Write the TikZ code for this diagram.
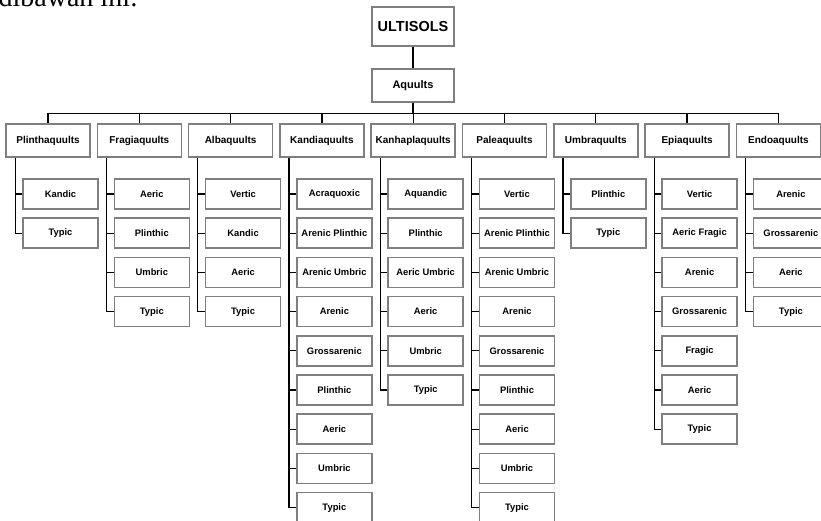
\documentclass[tikz,border=0pt]{standalone}
\usepackage{fontspec}
\setmainfont{Liberation Serif}
\newfontfamily\boxfont{Liberation Sans}
\usepackage{tikz}
\usetikzlibrary{positioning}
\definecolor{soilgray}{HTML}{7F7F7F}
\tikzstyle{ordobox} = [draw=soilgray, line width=1.6pt, fill=white, inner sep=0pt, align=center, font=\boxfont\bfseries]
\tikzstyle{grupbox} = [ordobox, minimum width=84pt, minimum height=33pt, font=\boxfont\bfseries\fontsize{10}{12}\selectfont]
\tikzstyle{subbox} = [ordobox, minimum width=75pt, minimum height=30pt, font=\boxfont\bfseries\fontsize{9.4}{11}\selectfont]
\tikzstyle{link} = [line width=1.3pt, black]

\begin{document}
\begin{tikzpicture}[x=1pt,y=-1pt]
\useasboundingbox (0,0) rectangle (821,521);
\node[font=\fontsize{28}{30}\selectfont, anchor=base east, inner sep=0pt] (intro) at (138,7) {dibawah ini:};

\node[ordobox, minimum width=82pt, minimum height=39pt, font=\boxfont\bfseries\fontsize{14.5}{16}\selectfont] (ordo) at (413,26.5) {ULTISOLS};
\node[ordobox, minimum width=82pt, minimum height=33pt, font=\boxfont\bfseries\fontsize{11}{13}\selectfont] (subordo) at (413,85.5) {Aquults};
\draw[link] (ordo) -- (subordo);

\foreach \i/\grp/\subs in {0/Plinthaquults/{Kandic,Typic},
  1/Fragiaquults/{Aeric,Plinthic,Umbric,Typic},
  2/Albaquults/{Vertic,Kandic,Aeric,Typic},
  3/Kandiaquults/{Acraquoxic,Arenic Plinthic,Arenic Umbric,Arenic,Grossarenic,Plinthic,Aeric,Umbric,Typic},
  4/Kanhaplaquults/{Aquandic,Plinthic,Aeric Umbric,Aeric,Umbric,Typic},
  5/Paleaquults/{Vertic,Arenic Plinthic,Arenic Umbric,Arenic,Grossarenic,Plinthic,Aeric,Umbric,Typic},
  6/Umbraquults/{Plinthic,Typic},
  7/Epiaquults/{Vertic,Aeric Fragic,Arenic,Grossarenic,Fragic,Aeric,Typic},
  8/Endoaquults/{Arenic,Grossarenic,Aeric,Typic}}{
  \node[grupbox] (g\i) at (48+91.3*\i,140.5) {\grp};
  \draw[link] (subordo.south) -- ++(0,11) -| (g\i.north);
  \foreach \sub [count=\k] in \subs {
    \node[subbox] (s\i-\k) at (60.5+91.3*\i,154.8+39.2*\k) {\sub};
    \draw[link] ([xshift=10pt]g\i.south west) |- (s\i-\k.west);
  }
}
\end{tikzpicture}
\end{document}
